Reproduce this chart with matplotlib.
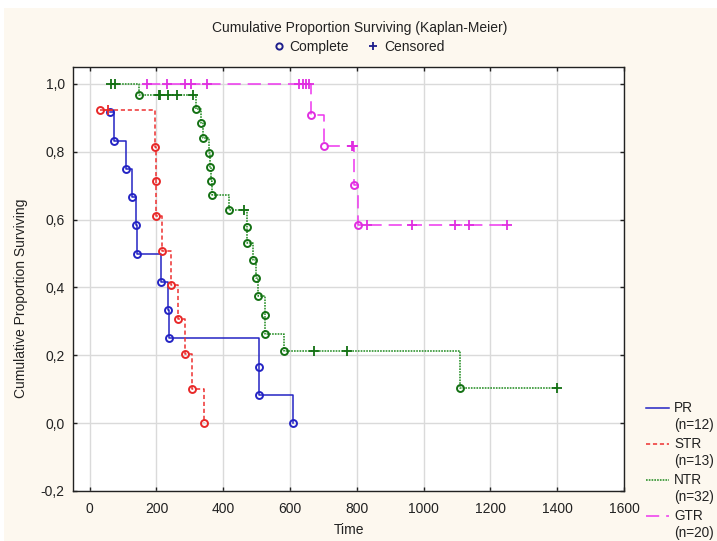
import matplotlib
matplotlib.use('Agg')
import matplotlib.pyplot as plt
from matplotlib.lines import Line2D
from matplotlib.patches import Rectangle

plt.rcParams['font.family'] = ['Liberation Sans', 'DejaVu Sans']
plt.rcParams['lines.scale_dashes'] = False

# ---------------- data ----------------
groups = ['PR', 'STR', 'NTR', 'GTR']
group_n = [12, 13, 32, 20]

pr_event_t = [60, 72, 108, 127, 138, 141, 213, 235, 238, 508, 508, 610]
pr_event_s = [0.917, 0.833, 0.750, 0.667, 0.583, 0.500, 0.417, 0.333, 0.250, 0.167, 0.083, 0.0]
pr_cens_t = []
pr_cens_s = []

str_event_t = [30, 196, 200, 200, 217, 243, 265, 285, 305, 343]
str_event_s = [0.923, 0.815, 0.713, 0.611, 0.509, 0.407, 0.306, 0.204, 0.102, 0.0]
str_cens_t = [55]
str_cens_s = [0.923]

ntr_event_t = [148, 317, 334, 338, 358, 361, 363, 367, 416, 472, 472, 490, 498, 505, 525, 525, 583, 1108]
ntr_event_s = [0.967, 0.927, 0.884, 0.840, 0.797, 0.755, 0.714, 0.672, 0.627, 0.578, 0.530,
               0.481, 0.429, 0.375, 0.319, 0.263, 0.213, 0.104]
ntr_cens_t = [65, 75, 207, 212, 235, 260, 308, 463, 673, 770, 1398]
ntr_cens_s = [1.0, 1.0, 0.967, 0.967, 0.967, 0.967, 0.967, 0.627, 0.213, 0.213, 0.104]

gtr_event_t = [662, 701, 790, 803]
gtr_event_s = [0.909, 0.818, 0.701, 0.584]
gtr_cens_t = [172, 232, 285, 302, 350, 628, 638, 648, 658, 785, 787, 830, 965, 1095, 1135, 1250]
gtr_cens_s = [1.0] * 9 + [0.818, 0.818] + [0.584] * 5

x_ticks = [0, 200, 400, 600, 800, 1000, 1200, 1400, 1600]
y_ticks = [-0.2, 0.0, 0.2, 0.4, 0.6, 0.8, 1.0]
y_tick_labels = ['-0,2', '0,0', '0,2', '0,4', '0,6', '0,8', '1,0']

# ---------------- styles ----------------
colors = ['#2424C4', '#EE3030', '#1E8A1E', '#EE36EE']
marker_edge = ['#2424C4', '#E82828', '#137013', '#E02EE0']
linestyles = ['-', (0, (3.0, 2.0)), (0, (1.2, 0.8)), (0, (9.5, 5.0))]

series = [
    (pr_event_t, pr_event_s, pr_cens_t, pr_cens_s),
    (str_event_t, str_event_s, str_cens_t, str_cens_s),
    (ntr_event_t, ntr_event_s, ntr_cens_t, ntr_cens_s),
    (gtr_event_t, gtr_event_s, gtr_cens_t, gtr_cens_s),
]

W, H = 717, 541
fig = plt.figure(figsize=(W / 100, H / 100), dpi=100)
fig.patch.set_facecolor('white')
fig.patches.append(Rectangle((4 / W, 0), 1, 1 - 8 / H, transform=fig.transFigure,
                             facecolor='#FDF8EF', edgecolor='none', zorder=-10))

ax = fig.add_axes([73 / W, 1 - 491 / H, (624 - 73) / W, (491 - 67) / H])
ax.set_facecolor('white')
ax.set_xlim(-50, 1600)
ax.set_ylim(-0.2, 1.05)
ax.set_axisbelow(True)
ax.grid(True, color='#DADADA', linewidth=1.0)

for i, (et, es, ct, cs) in enumerate(series):
    pts = sorted(list(zip(et, es)) + list(zip(ct, cs)), key=lambda p: p[0])
    xs = [p[0] for p in pts]
    ys = [p[1] for p in pts]
    ax.plot(xs, ys, drawstyle='steps-post', color=colors[i], linestyle=linestyles[i],
            linewidth=1.1, zorder=3)
    ax.plot(et, es, linestyle='none', marker='o', markersize=5.0, markerfacecolor='none',
            markeredgecolor=marker_edge[i], markeredgewidth=1.4, zorder=4)
    if ct:
        ax.plot(ct, cs, linestyle='none', marker='+', markersize=7, color=marker_edge[i],
                markeredgewidth=1.3, zorder=4)

ax.set_xticks(x_ticks)
ax.set_xticklabels([str(v) for v in x_ticks])
ax.set_yticks(y_ticks)
ax.set_yticklabels(y_tick_labels)
ax.tick_params(direction='in', length=3, width=1, top=True, right=True,
               labelsize=10, colors='#222222')
ax.tick_params(axis='x', pad=8)
ax.tick_params(axis='y', pad=6)
for s in ax.spines.values():
    s.set_color('#222222')
    s.set_linewidth(1.0)

ax.set_xlabel('Time', fontsize=10, color='#222222', labelpad=5)
ax.set_ylabel('Cumulative Proportion Surviving', fontsize=10, color='#222222')
ax.yaxis.set_label_coords(-0.094, 0.455)
ax.yaxis.label.set_verticalalignment('center')

fig.text(360 / W, 1 - 28 / H, 'Cumulative Proportion Surviving (Kaplan-Meier)',
         ha='center', va='center', fontsize=10, color='#222222')

hdl = [Line2D([], [], linestyle='none', marker='o', markersize=4.5, markerfacecolor='none',
              markeredgecolor='#1E1E8C', markeredgewidth=1.4),
       Line2D([], [], linestyle='none', marker='+', markersize=6, color='#1E1E8C',
              markeredgewidth=1.3)]
fig.legend(hdl, ['Complete', 'Censored'], loc='center', bbox_to_anchor=(358 / W, 1 - 47 / H),
           ncol=2, frameon=False, fontsize=10, handlelength=1.0, handletextpad=0.3,
           columnspacing=1.2, labelcolor='#222222')

# right-hand group legend
for i, g in enumerate(groups):
    y0 = 408 + i * 36
    fig.add_artist(Line2D([646 / W, 669 / W], [1 - y0 / H, 1 - y0 / H], transform=fig.transFigure,
                          color=colors[i], linestyle=linestyles[i], linewidth=1.1))
    fig.text(674 / W, 1 - y0 / H, g, ha='left', va='center', fontsize=9.8, color='#222222')
    fig.text(674 / W, 1 - (y0 + 17) / H, f'(n={group_n[i]})', ha='left', va='center',
             fontsize=9.8, color='#222222')

fig.savefig('out.png', dpi=100, facecolor=fig.get_facecolor())
